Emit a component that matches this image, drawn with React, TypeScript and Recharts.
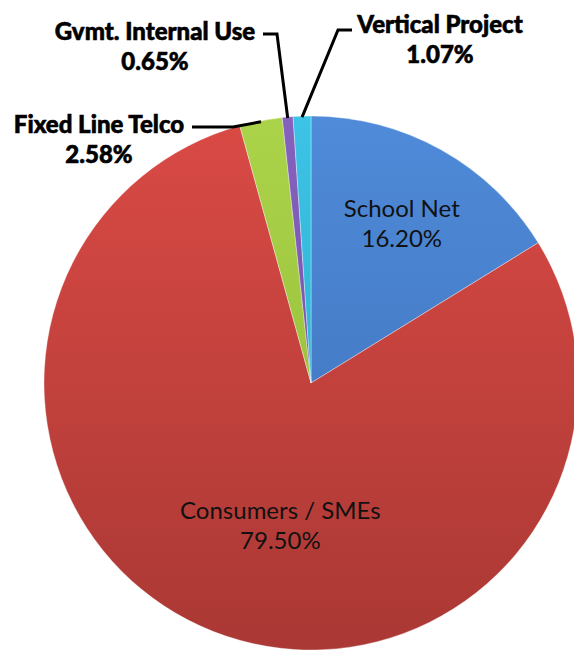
import React from "react";
import { Cell, Pie, PieChart } from "recharts";

const categories = [
  "School Net",
  "Consumers / SMEs",
  "Fixed Line Telco",
  "Gvmt. Internal Use",
  "Vertical Project",
];
const shares = [16.2, 79.5, 2.58, 0.65, 1.07];

// top / bottom stop of each slice's shading
const COLORS: [string, string][] = [
  ["#4f8bd9", "#3c6db6"],
  ["#da4a45", "#aa3834"],
  ["#abd44a", "#8fb332"],
  ["#8562bd", "#6c4a9f"],
  ["#3cc3e6", "#27a4c6"],
];

const FONT = "Lato, 'Open Sans', sans-serif";
const RAD = Math.PI / 180;

type InsideLayout = { kind: "inside"; radius: number; dx: number; dy: number };
type OutsideLayout = {
  kind: "outside";
  textX: number;
  textY: number;
  elbow: [number, number];
  end: [number, number];
};

// label placement per slice (layout only)
const LABEL_LAYOUT: (InsideLayout | OutsideLayout)[] = [
  { kind: "inside", radius: 0.69, dx: 1, dy: 0 },
  { kind: "inside", radius: 0.54, dx: 22, dy: 7 },
  { kind: "outside", textX: 99, textY: 123, elbow: [233, 127], end: [192, 127] },
  { kind: "outside", textX: 155, textY: 30, elbow: [277, 34], end: [263, 34] },
  { kind: "outside", textX: 440, textY: 23, elbow: [338, 30], end: [352, 30] },
];

const data = categories.map((name, i) => ({ name, value: shares[i] }));

function renderLabel(props: any) {
  const { cx, cy, midAngle, outerRadius, index } = props;
  const layout = LABEL_LAYOUT[index];
  const pct = `${shares[index].toFixed(2)}%`;
  const cos = Math.cos(-midAngle * RAD);
  const sin = Math.sin(-midAngle * RAD);

  if (layout.kind === "inside") {
    const r = outerRadius * layout.radius;
    const x = cx + r * cos + layout.dx;
    const y = cy + r * sin + layout.dy;
    const textProps = {
      textAnchor: "middle" as const,
      dominantBaseline: "central" as const,
      fontFamily: FONT,
      fontSize: 24,
      fill: "#111",
    };
    return (
      <g key={`lbl-${index}`}>
        <text x={x} y={y - 15} {...textProps}>
          {categories[index]}
        </text>
        <text x={x} y={y + 15} {...textProps}>
          {pct}
        </text>
      </g>
    );
  }

  const sx = cx + (outerRadius - 1) * cos;
  const sy = cy + (outerRadius - 1) * sin;
  const textProps = {
    textAnchor: "middle" as const,
    dominantBaseline: "central" as const,
    fontFamily: FONT,
    fontSize: 24,
    fontWeight: 900,
    fill: "#000",
    stroke: "#000",
    strokeWidth: 0.6,
  };
  return (
    <g key={`lbl-${index}`}>
      <polyline
        points={`${sx},${sy} ${layout.elbow[0]},${layout.elbow[1]} ${layout.end[0]},${layout.end[1]}`}
        fill="none"
        stroke="#000"
        strokeWidth={3}
      />
      <text x={layout.textX} y={layout.textY} {...textProps}>
        {categories[index]}
      </text>
      <text x={layout.textX} y={layout.textY + 30} {...textProps}>
        {pct}
      </text>
    </g>
  );
}

export default function App() {
  return (
    <div
      style={{
        position: "absolute",
        left: 0,
        top: 0,
        width: 574,
        height: 651,
        background: "#fff",
        overflow: "hidden",
      }}
    >
      <PieChart width={574} height={651} margin={{ top: 0, right: 0, bottom: 0, left: 0 }}>
        <defs>
          {COLORS.map(([top, bottom], i) => (
            <linearGradient
              key={i}
              id={`slice-${i}`}
              gradientUnits="userSpaceOnUse"
              x1={0}
              y1={116}
              x2={0}
              y2={650}
            >
              <stop offset="0%" stopColor={top} />
              <stop offset="100%" stopColor={bottom} />
            </linearGradient>
          ))}
        </defs>
        <Pie
          data={data}
          dataKey="value"
          nameKey="name"
          cx={311}
          cy={383}
          outerRadius={267}
          startAngle={90}
          endAngle={-270}
          stroke="rgba(255,255,255,0.35)"
          strokeWidth={1}
          label={renderLabel}
          labelLine={false}
          isAnimationActive={false}
        >
          {data.map((d, i) => (
            <Cell key={d.name} fill={`url(#slice-${i})`} />
          ))}
        </Pie>
      </PieChart>
    </div>
  );
}
